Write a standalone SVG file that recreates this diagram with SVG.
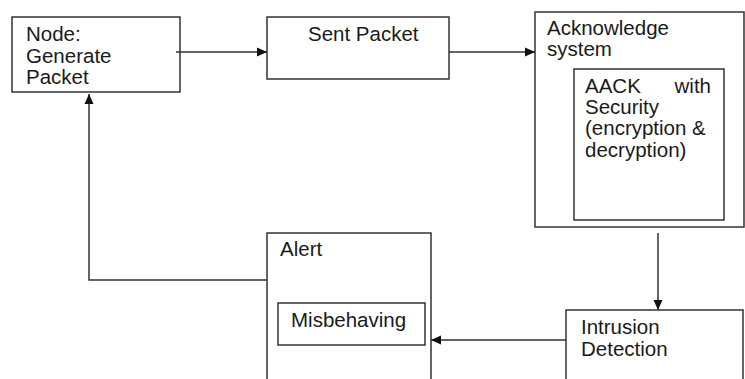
<svg xmlns="http://www.w3.org/2000/svg" width="745" height="379" viewBox="0 0 745 379">
  <style>
    .box { fill: #fff; stroke: #333; stroke-width: 1.5; }
    .lbl { font-family: "Liberation Sans", Arial, sans-serif; font-size: 20.5px; fill: #1a1a1a; }
    .conn { fill: none; stroke: #333; stroke-width: 1.5; }
  </style>
  <defs>
    <marker id="arrow" viewBox="0 0 10 10" refX="10" refY="5" markerWidth="10" markerHeight="10" markerUnits="userSpaceOnUse" orient="auto">
      <path d="M0,0.5 L10,5 L0,9.5 Z" fill="#111"/>
    </marker>
  </defs>
  <rect width="745" height="379" fill="#fff"/>

  <g id="node-generate">
    <rect class="box" x="12" y="17" width="168" height="75"/>
    <text class="lbl" x="26" y="41">Node:</text>
    <text class="lbl" x="26" y="63">Generate</text>
    <text class="lbl" x="26" y="84">Packet</text>
  </g>

  <g id="sent-packet">
    <rect class="box" x="267" y="17" width="182" height="62"/>
    <text class="lbl" x="308" y="41">Sent Packet</text>
  </g>

  <g id="acknowledge">
    <rect class="box" x="535" y="12" width="209" height="215"/>
    <text class="lbl" x="547" y="35">Acknowledge</text>
    <text class="lbl" x="547" y="56">system</text>
  </g>

  <g id="aack">
    <rect class="box" x="574" y="69" width="150" height="151"/>
    <text class="lbl" x="585" y="93">AACK</text>
    <text class="lbl" x="711" y="93" text-anchor="end">with</text>
    <text class="lbl" x="585" y="114">Security</text>
    <text class="lbl" x="585" y="135">(encryption &amp;</text>
    <text class="lbl" x="585" y="157">decryption)</text>
  </g>

  <g id="intrusion">
    <rect class="box" x="566" y="310" width="177" height="80"/>
    <text class="lbl" x="581" y="334">Intrusion</text>
    <text class="lbl" x="581" y="356">Detection</text>
  </g>

  <g id="alert">
    <rect class="box" x="267" y="233" width="164" height="160"/>
    <text class="lbl" x="280" y="256">Alert</text>
  </g>

  <g id="misbehaving">
    <rect class="box" x="278" y="303" width="147" height="42"/>
    <text class="lbl" x="291" y="327">Misbehaving</text>
  </g>

  <g id="connectors">
    <line class="conn" x1="176" y1="52" x2="267" y2="52" marker-end="url(#arrow)"/>
    <line class="conn" x1="449" y1="52" x2="535" y2="52" marker-end="url(#arrow)"/>
    <line class="conn" x1="658" y1="233" x2="658" y2="310" marker-end="url(#arrow)"/>
    <line class="conn" x1="566" y1="340" x2="431" y2="340" marker-end="url(#arrow)"/>
    <polyline class="conn" points="267,280 89,280 89,94" marker-end="url(#arrow)"/>
  </g>
</svg>
